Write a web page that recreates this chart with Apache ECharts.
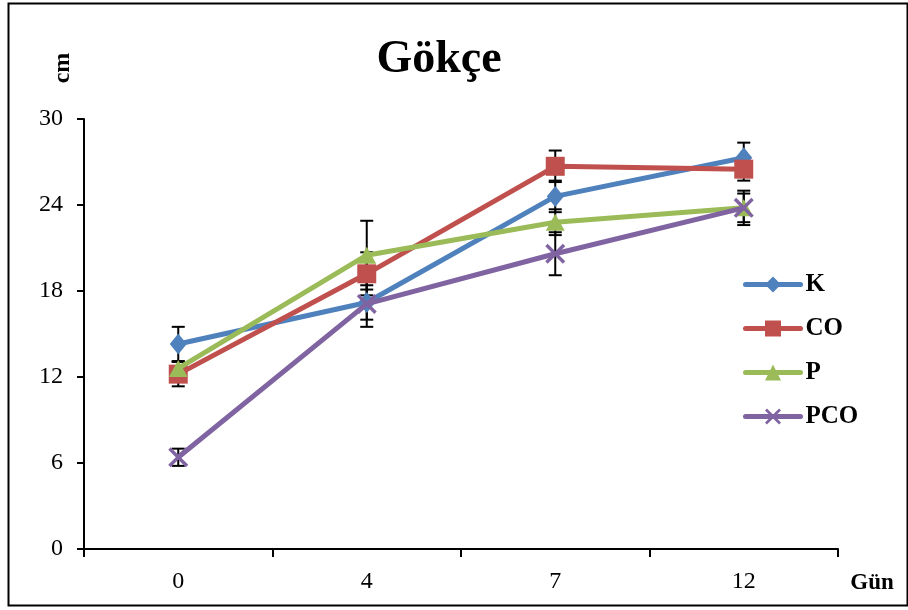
<!DOCTYPE html>
<html>
<head>
<meta charset="utf-8">
<script src="https://cdn.jsdelivr.net/npm/echarts@6/dist/echarts.min.js"></script>
<style>html,body{margin:0;padding:0;background:#fff}#c{width:908px;height:610px}</style>
</head>
<body>
<div id="c"></div>
<script>
var categories = ['0', '4', '7', '12'];
var seriesNames = ['K', 'CO', 'P', 'PCO'];
var kValues = [14.3, 17.2, 24.6, 27.3];
var coValues = [12.2, 19.2, 26.7, 26.5];
var pValues = [12.6, 20.5, 22.8, 23.8];
var pcoValues = [6.4, 17.1, 20.6, 23.8];
var kErr = [1.2, 1.2, 1.1, 1.05];
var coErr = [0.85, 1.5, 1.1, 0.8];
var pErr = [0.5, 2.4, 0.9, 1.0];
var pcoErr = [0.6, 1.6, 1.5, 1.2];
var yTicks = [0, 6, 12, 18, 24, 30];

var colors = ['#4F81BD', '#C0504D', '#9BBB59', '#8064A2'];
var symbols = ['diamond', 'rect', 'triangle',
  'path://M0,1.2 L1.2,0 L10,8.8 L8.8,10 Z M8.8,0 L10,1.2 L1.2,10 L0,8.8 Z'];
var symbolSizes = [[17, 21], 19, [19, 17], 20];
var values = [kValues, coValues, pValues, pcoValues];
var errs = [kErr, coErr, pErr, pcoErr];
var serif = '"Liberation Serif","Times New Roman",serif';

var chart = echarts.init(document.getElementById('c'), null, {renderer: 'canvas'});

function errSeries(idx) {
  var data = categories.map(function (c, i) {
    return [i, values[idx][i] - errs[idx][i], values[idx][i] + errs[idx][i]];
  });
  return {
    type: 'custom',
    name: seriesNames[idx] + ' err',
    z: 1,
    silent: true,
    data: data,
    renderItem: function (params, api) {
      var lo = api.coord([api.value(0), api.value(1)]);
      var hi = api.coord([api.value(0), api.value(2)]);
      var w = 6.5;
      var st = {stroke: '#000', lineWidth: 2};
      return {
        type: 'group',
        children: [
          {type: 'line', shape: {x1: hi[0], y1: hi[1], x2: lo[0], y2: lo[1]}, style: st},
          {type: 'line', shape: {x1: hi[0] - w, y1: hi[1], x2: hi[0] + w, y2: hi[1]}, style: st},
          {type: 'line', shape: {x1: lo[0] - w, y1: lo[1], x2: lo[0] + w, y2: lo[1]}, style: st}
        ]
      };
    }
  };
}

var series = [];
for (var k = 0; k < 4; k++) series.push(errSeries(k));
for (var j = 0; j < 4; j++) {
  series.push({
    type: 'line',
    name: seriesNames[j],
    data: values[j],
    z: 3 + j,
    symbol: symbols[j],
    symbolSize: symbolSizes[j],
    showAllSymbol: true,
    lineStyle: {color: colors[j], width: 5},
    itemStyle: {color: colors[j], borderWidth: 0, opacity: 1},
    emphasis: {disabled: true}
  });
}

chart.setOption({
  animation: false,
  backgroundColor: '#fff',
  title: {
    text: 'Gökçe',
    left: 434,
    top: 32,
    textAlign: 'center',
    textStyle: {fontFamily: serif, fontWeight: 'bold', fontSize: 46, color: '#000'}
  },
  grid: {left: 84, right: 70, top: 119, bottom: 61, containLabel: false},
  legend: {
    orient: 'vertical',
    left: 743,
    top: 272,
    padding: 0,
    itemWidth: 55,
    itemHeight: 20,
    itemGap: 19,
    data: seriesNames,
    lineStyle: {width: 5, cap: 'round'},
    textStyle: {fontFamily: serif, fontWeight: 'bold', fontSize: 25, color: '#000'}
  },
  xAxis: {
    type: 'category',
    data: categories,
    boundaryGap: true,
    axisLine: {lineStyle: {color: '#000', width: 2}},
    axisTick: {show: true, length: 8, lineStyle: {color: '#000', width: 2}},
    axisLabel: {fontFamily: serif, fontSize: 24, color: '#000', margin: 21},
    splitLine: {show: false}
  },
  yAxis: {
    type: 'value',
    min: 0,
    max: 30,
    interval: 6,
    axisLine: {show: true, lineStyle: {color: '#000', width: 2}},
    axisTick: {show: true, length: 7, lineStyle: {color: '#000', width: 2}},
    axisLabel: {fontFamily: serif, fontSize: 24, color: '#000', margin: 21,
      formatter: function (v) { return yTicks.indexOf(v) >= 0 ? String(v) : ''; }},
    splitLine: {show: false}
  },
  graphic: [
    {type: 'rect', left: 6, top: 1, shape: {width: 899, height: 602},
      style: {fill: 'none', stroke: '#000', lineWidth: 2}, z: 0, silent: true},
    {type: 'text', x: 63, y: 68, rotation: Math.PI / 2,
      style: {text: 'cm', fontFamily: serif, fontWeight: 'bold', fontSize: 24, fill: '#000',
        align: 'center', verticalAlign: 'middle'}},
    {type: 'text', x: 872, y: 583,
      style: {text: 'Gün', fontFamily: serif, fontWeight: 'bold', fontSize: 23, fill: '#000',
        align: 'center', verticalAlign: 'middle'}}
  ],
  series: series
});
</script>
</body>
</html>
